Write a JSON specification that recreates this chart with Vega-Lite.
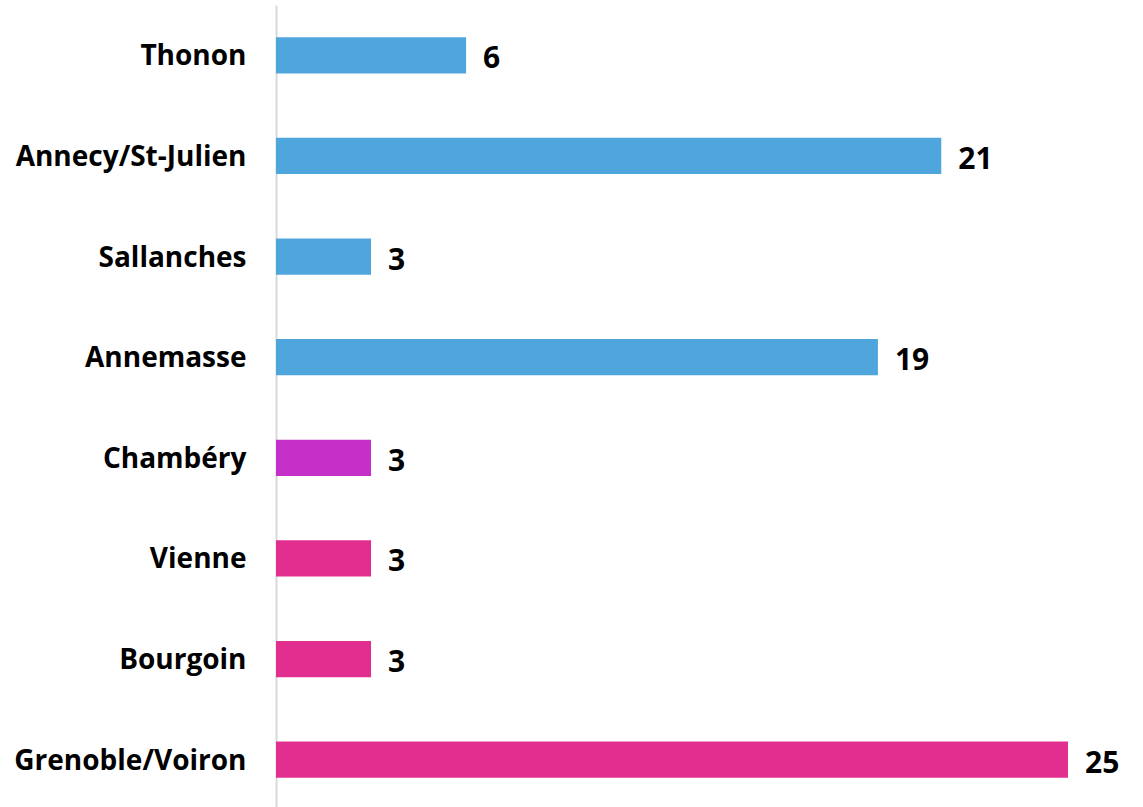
{
  "$schema": "https://vega.github.io/schema/vega-lite/v6.json",
  "width": 792,
  "height": 805,
  "autosize": {"type": "none"},
  "padding": {"left": 276, "top": 5, "right": 75, "bottom": 0},
  "background": "white",
  "data": {"values": [
    {"ville": "Thonon", "valeur": 6, "groupe": "A"},
    {"ville": "Annecy/St-Julien", "valeur": 21, "groupe": "A"},
    {"ville": "Sallanches", "valeur": 3, "groupe": "A"},
    {"ville": "Annemasse", "valeur": 19, "groupe": "A"},
    {"ville": "Chambéry", "valeur": 3, "groupe": "B"},
    {"ville": "Vienne", "valeur": 3, "groupe": "C"},
    {"ville": "Bourgoin", "valeur": 3, "groupe": "C"},
    {"ville": "Grenoble/Voiron", "valeur": 25, "groupe": "C"}
  ]},
  "encoding": {
    "y": {"field": "ville", "type": "nominal", "sort": null,
      "scale": {"paddingInner": 0.64, "paddingOuter": 0.32},
      "axis": {"title": null, "ticks": false, "domain": true, "domainColor": "#d9d9d9", "domainWidth": 2,
        "labelFont": "Open Sans", "labelFontWeight": "bold", "labelFontSize": 28, "labelColor": "#000000",
        "labelPadding": 30, "labelLimit": 400, "labelOffset": 2}},
    "x": {"field": "valeur", "type": "quantitative", "scale": {"domain": [0, 25], "nice": false}, "axis": null}
  },
  "layer": [
    {"mark": {"type": "bar"},
     "encoding": {"color": {"field": "groupe", "type": "nominal",
        "scale": {"domain": ["A", "B", "C"], "range": ["#4FA6DC", "#C430C8", "#E22E8F"]}, "legend": null}}},
    {"mark": {"type": "text", "align": "left", "dx": 17, "dy": 4, "font": "Open Sans", "fontWeight": "bold", "fontSize": 30, "color": "#000000"},
     "encoding": {"text": {"field": "valeur", "type": "quantitative"}}}
  ],
  "config": {"view": {"stroke": null}}
}
